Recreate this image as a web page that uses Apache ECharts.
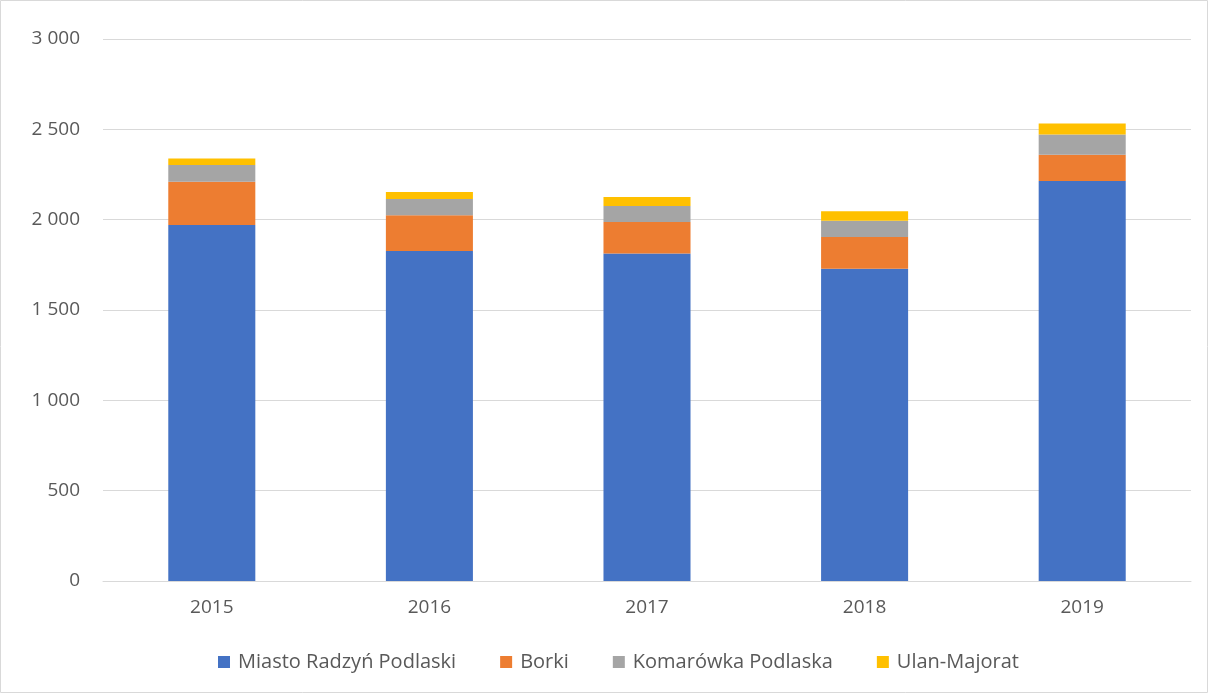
<!doctype html>
<html lang="pl" style="height: 100%">
<head>
  <meta charset="utf-8" />
  <script type="text/javascript" src="https://fastly.jsdelivr.net/npm/echarts@6/dist/echarts.min.js"></script>
</head>
<body style="height: 100%; margin: 0">
  <div id="main" style="width: 1209px; height: 694px"></div>
  <script type="text/javascript">
    var years = ['2015', '2016', '2017', '2018', '2019'];
    var miasto = [1970, 1826, 1813, 1729, 2214];
    var borki = [240, 199, 174, 175, 146];
    var komarowka = [92, 89, 88, 90, 112];
    var ulan = [37, 39, 50, 52, 60];

    var chartDom = document.getElementById('main');
    var myChart = echarts.init(chartDom);
    var font = 'Open Sans';

    function bar(name, data, color) {
      return {
        name: name,
        type: 'bar',
        stack: 'total',
        barWidth: '40%',
        data: data,
        itemStyle: { color: color }
      };
    }

    var option = {
      animation: false,
      textStyle: { fontFamily: font },
      graphic: [{
        type: 'rect',
        shape: { x: 0.5, y: 0.5, width: 1207, height: 692 },
        style: { fill: 'none', stroke: '#d9d9d9', lineWidth: 1 }
      }],
      grid: { left: 103, right: 18, top: 39, bottom: 113 },
      legend: {
        bottom: 17,
        left: 213,
        itemWidth: 12,
        itemHeight: 12,
        itemGap: 44,
        icon: 'rect',
        textStyle: { color: '#595959', fontSize: 20, fontFamily: font, padding: [0, 0, 0, 3] }
      },
      xAxis: {
        type: 'category',
        data: years,
        axisTick: { show: false },
        axisLine: { lineStyle: { color: '#d9d9d9' } },
        axisLabel: { color: '#595959', fontSize: 19, margin: 17 }
      },
      yAxis: {
        type: 'value',
        min: 0,
        max: 3000,
        interval: 500,
        axisLine: { show: false },
        splitLine: { lineStyle: { color: '#d9d9d9' } },
        axisLabel: {
          color: '#595959',
          fontSize: 19,
          margin: 23,
          formatter: function (v) {
            return String(v).replace(/\B(?=(\d{3})+(?!\d))/g, ' ');
          }
        }
      },
      series: [
        bar('Miasto Radzyń Podlaski', miasto, '#4472c4'),
        bar('Borki', borki, '#ed7d31'),
        bar('Komarówka Podlaska', komarowka, '#a5a5a5'),
        bar('Ulan-Majorat', ulan, '#ffc000')
      ]
    };
    myChart.setOption(option);
  </script>
</body>
</html>
